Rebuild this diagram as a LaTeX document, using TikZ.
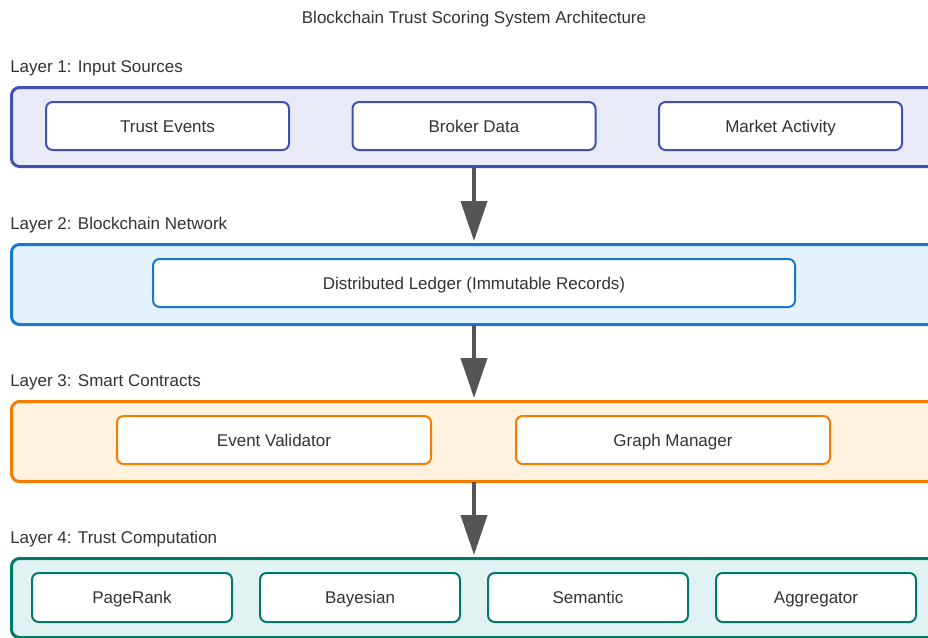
\documentclass[tikz,border=0pt]{standalone}
\usepackage{fontspec}
\setmainfont{Liberation Sans}
\usetikzlibrary{arrows.meta}
\definecolor{txt}{HTML}{333333}
\definecolor{aF}{HTML}{E8EAF6}\definecolor{aD}{HTML}{3F51B5}
\definecolor{bF}{HTML}{E3F2FD}\definecolor{bD}{HTML}{1976D2}
\definecolor{cF}{HTML}{FFF3E0}\definecolor{cD}{HTML}{F57C00}
\definecolor{dF}{HTML}{E0F2F1}\definecolor{dD}{HTML}{00796B}
\definecolor{arr}{HTML}{555555}
\tikzset{
  txtfont/.style={text=txt, font=\fontsize{12.75}{15}\selectfont, text height=9.2pt, text depth=0pt},
  layerbox/.style={draw=#1, line width=2.25pt, rounded corners=6pt, anchor=north west, inner sep=0pt},
  itembox/.style={draw=#1, fill=white, line width=1.5pt, rounded corners=5pt, inner sep=0pt, txtfont},
  lbl/.style={anchor=west, txtfont, inner sep=0pt},
  flow/.style={draw=arr, line width=3pt, -{Triangle[width=19.5pt,length=30pt]}, arr}
}
\begin{document}
\begin{tikzpicture}[x=0.75pt,y=-0.75pt]
\useasboundingbox (0,0) rectangle (928,637);
\clip (0,0) rectangle (928,637);
\node[txtfont, inner sep=0pt] (title) at (474,17) {Blockchain Trust Scoring System Architecture};
% Layer 1
\node[lbl] (l1lbl) at (10,66) {Layer 1: Input Sources};
\node[layerbox=aD, fill=aF, minimum width=940*0.75pt, minimum height=79*0.75pt] (l1) at (10,86) {};
\node[itembox=aD, minimum width=243*0.75pt, minimum height=48*0.75pt] (te) at (167.5,126) {Trust Events};
\node[itembox=aD, minimum width=243*0.75pt, minimum height=48*0.75pt] (bd) at (474,126) {Broker Data};
\node[itembox=aD, minimum width=243*0.75pt, minimum height=48*0.75pt] (ma) at (780.5,126) {Market Activity};
% Layer 2
\node[lbl] (l2lbl) at (10,223) {Layer 2: Blockchain Network};
\node[layerbox=bD, fill=bF, minimum width=940*0.75pt, minimum height=80*0.75pt] (l2) at (10,243) {};
\node[itembox=bD, minimum width=642*0.75pt, minimum height=48*0.75pt] (dl) at (474,283) {Distributed Ledger (Immutable Records)};
% Layer 3
\node[lbl] (l3lbl) at (10,380) {Layer 3: Smart Contracts};
\node[layerbox=cD, fill=cF, minimum width=940*0.75pt, minimum height=80*0.75pt] (l3) at (10,400) {};
\node[itembox=cD, minimum width=314*0.75pt, minimum height=48*0.75pt] (ev) at (274,440) {Event Validator};
\node[itembox=cD, minimum width=314*0.75pt, minimum height=48*0.75pt] (gm) at (673,440) {Graph Manager};
% Layer 4
\node[lbl] (l4lbl) at (10,537) {Layer 4: Trust Computation};
\node[layerbox=dD, fill=dF, minimum width=940*0.75pt, minimum height=79*0.75pt] (l4) at (10,557) {};
\node[itembox=dD, minimum width=200*0.75pt, minimum height=49*0.75pt] (pr) at (132,597.5) {PageRank};
\node[itembox=dD, minimum width=200*0.75pt, minimum height=49*0.75pt] (ba) at (360,597.5) {Bayesian};
\node[itembox=dD, minimum width=200*0.75pt, minimum height=49*0.75pt] (se) at (588,597.5) {Semantic};
\node[itembox=dD, minimum width=200*0.75pt, minimum height=49*0.75pt] (ag) at (816,597.5) {Aggregator};
% arrows
\coordinate (a1s) at (474,167); \coordinate (a1e) at (474,241);
\coordinate (a2s) at (474,325); \coordinate (a2e) at (474,398);
\coordinate (a3s) at (474,482); \coordinate (a3e) at (474,555);
\draw[flow] (a1s) -- (a1e);
\draw[flow] (a2s) -- (a2e);
\draw[flow] (a3s) -- (a3e);
\end{tikzpicture}
\end{document}
